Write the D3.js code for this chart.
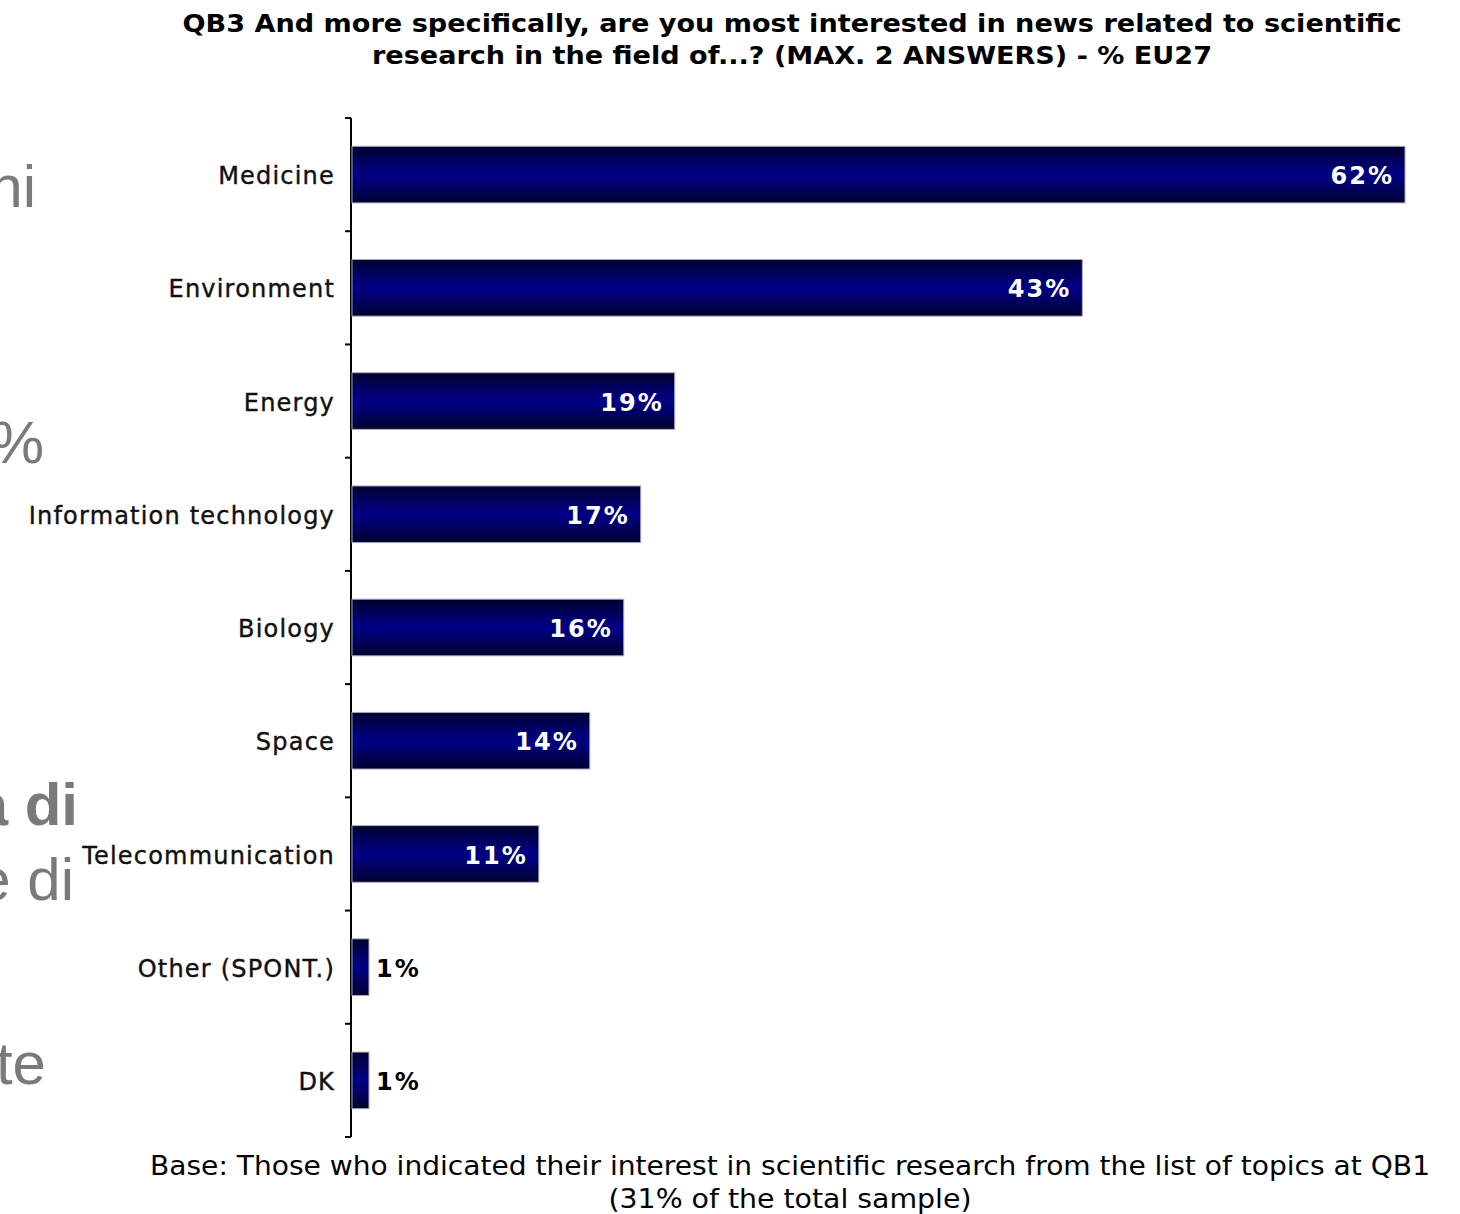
<!DOCTYPE html>
<html>
<head>
<meta charset="utf-8">
<script src="https://cdn.jsdelivr.net/npm/d3@7"></script>
<style>
  body { margin:0; background:#fff; }
  svg { display:block; }
</style>
</head>
<body>
<svg id="chart"></svg>
<script>
// data
var categories = ["Medicine", "Environment", "Energy", "Information technology", "Biology",
                  "Space", "Telecommunication", "Other (SPONT.)", "DK"];
var values = [62, 43, 19, 17, 16, 14, 11, 1, 1];
var titleLines = ["QB3 And more specifically, are you most interested in news related to scientific",
                  "research in the field of...? (MAX. 2 ANSWERS) - % EU27"];
var footLines = ["Base: Those who indicated their interest in scientific research from the list of topics at QB1",
                 "(31% of the total sample)"];
// slide text peeking out from behind the chart
var bgText = ["ni", "%", "a di", "e di", "te"];

var screen = {width:1460, height:1214};
var margins = {top:118, left:351, right:56, bottom:77};

var svg = d3.select("#chart")
            .attr("width", screen.width)
            .attr("height", screen.height);

// background slide fragments
var bgPos = [{x:36, y:207, w:"normal"}, {x:44, y:463, w:"normal"}, {x:78, y:825, w:"bold"},
             {x:74, y:900, w:"normal"}, {x:46, y:1084, w:"normal"}];
svg.append("g").selectAll("text")
   .data(bgText)
   .enter()
   .append("text")
   .attr("x", function(d, i){ return bgPos[i].x; })
   .attr("y", function(d, i){ return bgPos[i].y; })
   .attr("text-anchor", "end")
   .attr("font-family", "Liberation Sans, Arial, sans-serif")
   .attr("font-size", 60)
   .attr("font-weight", function(d, i){ return bgPos[i].w; })
   .attr("fill", "#7a7a7a")
   .text(function(d){ return d; });

// gradient for bars
var defs = svg.append("defs");
var grad = defs.append("linearGradient")
               .attr("id", "barGrad")
               .attr("x1", 0).attr("y1", 0).attr("x2", 0).attr("y2", 1);
grad.append("stop").attr("offset", "0%").attr("stop-color", "#000030");
grad.append("stop").attr("offset", "45%").attr("stop-color", "#000080");
grad.append("stop").attr("offset", "55%").attr("stop-color", "#000080");
grad.append("stop").attr("offset", "100%").attr("stop-color", "#000030");

//scales
var xScale = d3.scaleLinear()
               .domain([0, 62])
               .range([margins.left, 1404]);

var yScale = d3.scaleBand()
               .domain(categories)
               .range([margins.top, screen.height - margins.bottom])
               .paddingInner(0.5)
               .paddingOuter(0.25);

// title
svg.append("g").selectAll("text")
   .data(titleLines)
   .enter()
   .append("text")
   .attr("x", 792)
   .attr("y", function(d, i){ return 32 + i*32; })
   .attr("text-anchor", "middle")
   .attr("font-family", "DejaVu Sans, Verdana, sans-serif")
   .attr("font-weight", "bold")
   .attr("font-size", 24)
   .attr("textLength", function(d, i){ return i == 0 ? 1219 : 840; })
   .attr("lengthAdjust", "spacingAndGlyphs")
   .attr("fill", "#000")
   .text(function(d){ return d; });

// axis line + ticks at band boundaries
var step = yScale.step();
var bounds = categories.map(function(c){ return yScale(c) - step*0.25; });
bounds.push(yScale.range()[1]);
svg.append("line")
   .attr("x1", margins.left).attr("x2", margins.left)
   .attr("y1", yScale.range()[0]).attr("y2", yScale.range()[1])
   .attr("stroke", "#000").attr("stroke-width", 2);
svg.append("g").selectAll("line")
   .data(bounds)
   .enter()
   .append("line")
   .attr("x1", margins.left - 6).attr("x2", margins.left)
   .attr("y1", function(d){ return d; }).attr("y2", function(d){ return d; })
   .attr("stroke", "#000").attr("stroke-width", 2);

//bars
svg.append("g").selectAll("rect")
   .data(values)
   .enter()
   .append("rect")
   .attr("x", xScale(0) + 1)
   .attr("y", function(d, i){ return yScale(categories[i]); })
   .attr("width", function(d){ return xScale(d) - xScale(0); })
   .attr("height", yScale.bandwidth())
   .attr("fill", "url(#barGrad)")
   .attr("stroke", "#a8a8c0")
   .attr("stroke-width", 1);

// category labels
svg.append("g").selectAll("text")
   .data(categories)
   .enter()
   .append("text")
   .attr("x", 335)
   .attr("y", function(d){ return yScale(d) + yScale.bandwidth()/2; })
   .attr("dy", "0.4em")
   .attr("text-anchor", "end")
   .attr("font-family", "DejaVu Sans, Verdana, sans-serif")
   .attr("font-size", 24)
   .attr("letter-spacing", 1.2)
   .attr("fill", "#111")
   .attr("stroke", "#111")
   .attr("stroke-width", 0.4)
   .text(function(d){ return d; });

// value labels
svg.append("g").selectAll("text")
   .data(values)
   .enter()
   .append("text")
   .attr("x", function(d){ return d > 5 ? xScale(d) - 10 : xScale(d) + 8; })
   .attr("y", function(d, i){ return yScale(categories[i]) + yScale.bandwidth()/2; })
   .attr("dy", "0.4em")
   .attr("text-anchor", function(d){ return d > 5 ? "end" : "start"; })
   .attr("font-family", "DejaVu Sans, Verdana, sans-serif")
   .attr("font-weight", "bold")
   .attr("font-size", 24)
   .attr("letter-spacing", 2)
   .attr("fill", function(d){ return d > 5 ? "#fff" : "#000"; })
   .text(function(d){ return d + "%"; });

// footnote
svg.append("g").selectAll("text")
   .data(footLines)
   .enter()
   .append("text")
   .attr("x", 790)
   .attr("y", function(d, i){ return 1175 + i*33; })
   .attr("text-anchor", "middle")
   .attr("font-family", "DejaVu Sans, Verdana, sans-serif")
   .attr("font-size", 26)
   .attr("textLength", function(d, i){ return i == 0 ? 1280 : 363; })
   .attr("lengthAdjust", "spacingAndGlyphs")
   .attr("fill", "#000")
   .text(function(d){ return d; });
</script>
</body>
</html>
